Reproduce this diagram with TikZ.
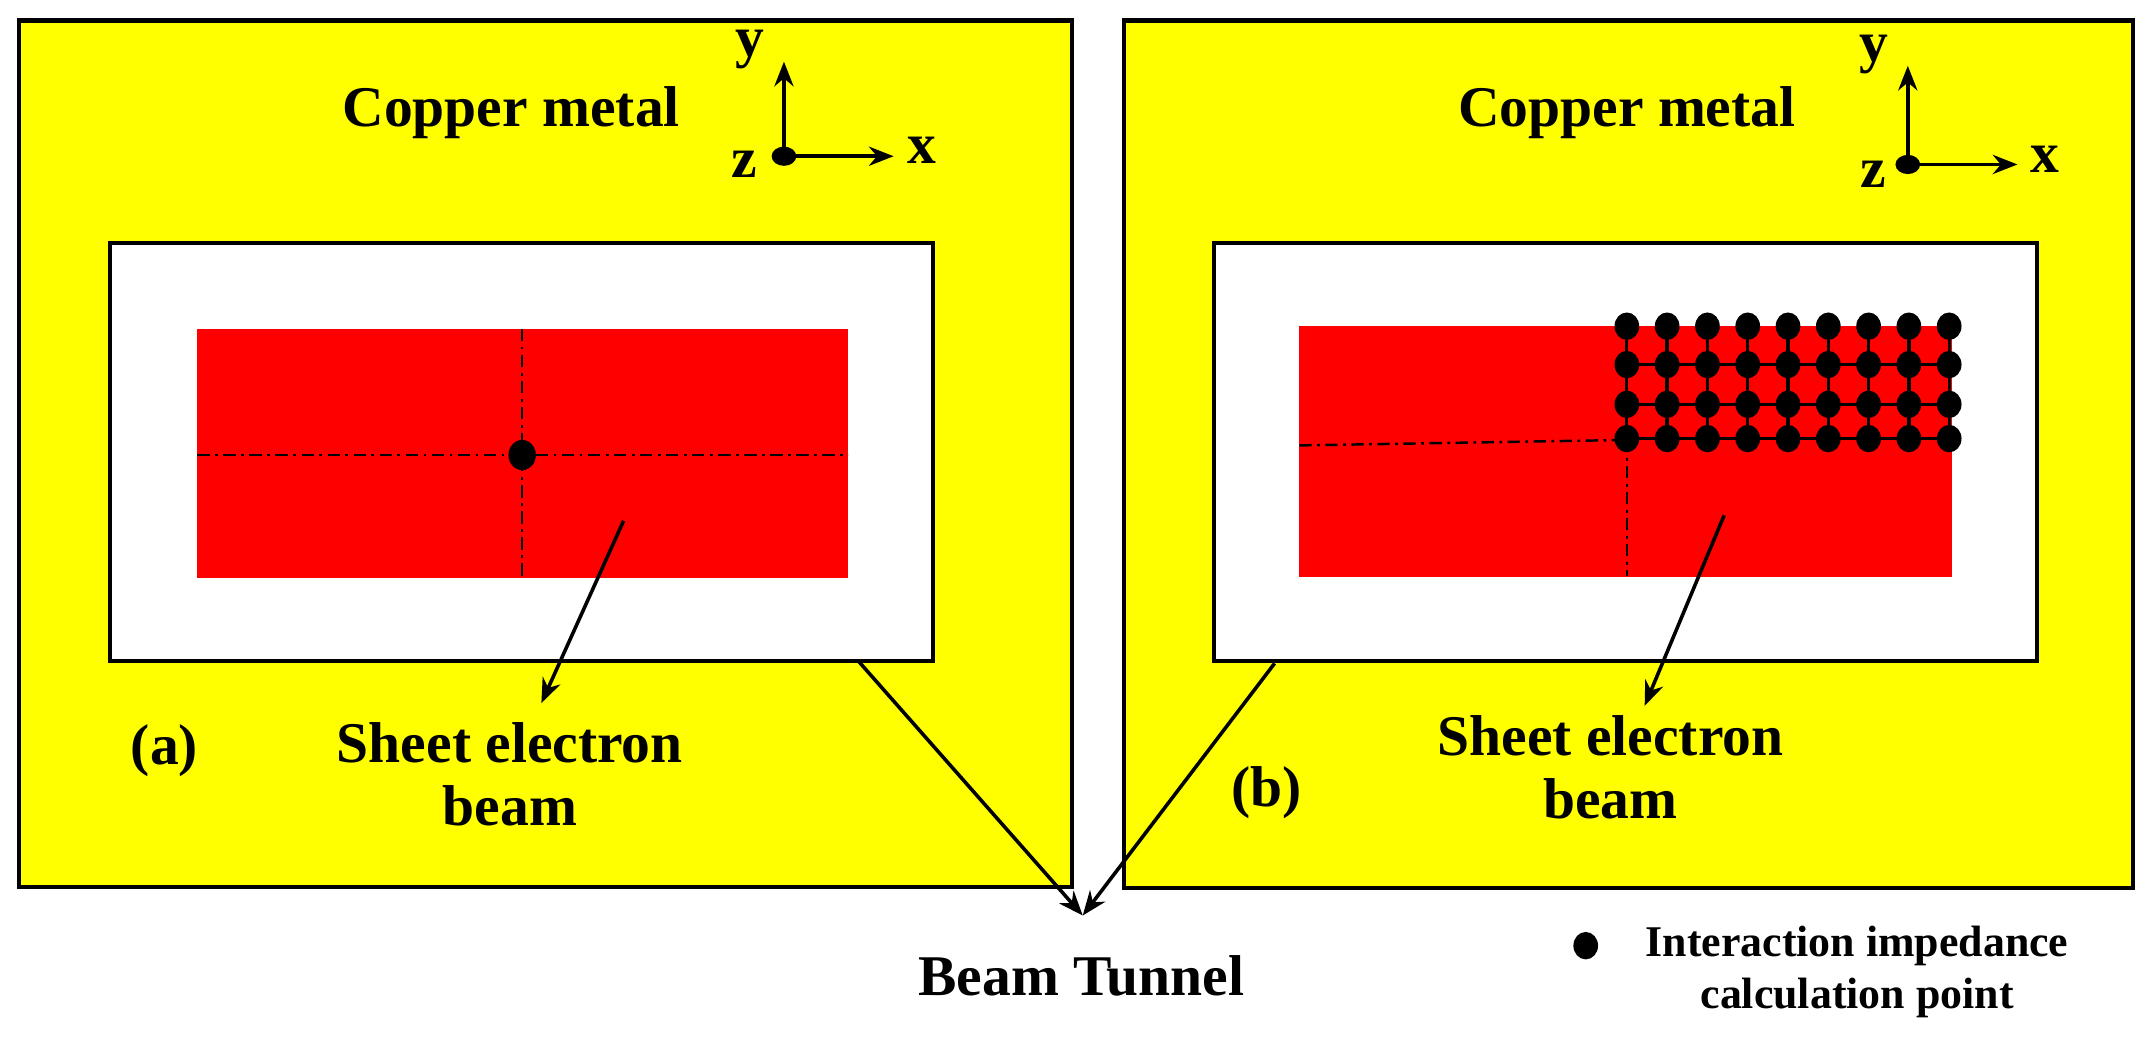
\documentclass[tikz,border=0pt]{standalone}
\usepackage{fontspec}
\setmainfont{Liberation Serif}
\usetikzlibrary{arrows.meta}
\definecolor{cu}{RGB}{255,255,0}
\definecolor{rd}{RGB}{255,0,0}
\begin{document}
\begin{tikzpicture}[x=1pt,y=-1pt,
  lbl/.style={font=\fontsize{42}{46}\selectfont\bfseries,inner sep=0pt},
  small/.style={font=\fontsize{32}{36}\selectfont\bfseries,inner sep=0pt},
  arr/.style={line width=2.6pt,-{Stealth[length=18pt,width=14pt]}},
  dd/.style={line width=1.8pt,dash pattern=on 9pt off 4pt on 2pt off 4pt}]
\useasboundingbox (0,0) rectangle (1568,762);
% panel a
\fill[cu,draw=black,line width=3pt] (14,15) rectangle (782,647);
\fill[white,draw=black,line width=3pt] (80,177) rectangle (681,482);
\fill[rd] (144,240) rectangle (619,422);
\draw[dd] (144,332) -- (619,332);
\draw[dd] (381,240) -- (381,422);
\fill (381,332) ellipse (10pt and 11pt);
\coordinate (oa) at (572,114);
\draw[arr] (oa) -- (572,45);
\draw[arr] (oa) -- (652,114);
\fill (oa) ellipse (9pt and 7pt);
\node[lbl] at (547,36) {y};
\node[lbl] at (673,110) {x};
\node[lbl] at (543,120) {z};
\node[lbl] at (373,82) {Copper metal};
\node[lbl,align=center] (sa) at (372,565) {Sheet electron\\beam};
\coordinate (sa0) at (455,380);
\draw[arr] (sa0) -- (395,513);
\node[lbl] at (120,548) {(a)};
% panel b
\fill[cu,draw=black,line width=3pt] (820,15) rectangle (1556,648);
\fill[white,draw=black,line width=3pt] (886,177) rectangle (1486,482);
\fill[rd] (948,238) rectangle (1424,421);
\draw[dd] (948,325) -- (1187,321);
\draw[dd] (1187,321) -- (1187,420);
\foreach \i in {0,...,8}{
  \pgfmathsetmacro\xx{1187+\i*29.4}
  \draw[line width=2.4pt] (\xx,238) -- (\xx,320);
}
\foreach \yy in {266,295,320} \draw[line width=2.4pt] (1187,\yy) -- (1422,\yy);
\foreach \yy in {238,266,295,320}
 \foreach \i in {0,...,8}{
  \pgfmathsetmacro\xx{1187+\i*29.4}
  \fill (\xx,\yy) ellipse (9pt and 10pt);
 }
\coordinate (ob) at (1392,120);
\draw[arr] (ob) -- (1392,48);
\draw[arr] (ob) -- (1472,120);
\fill (ob) ellipse (9pt and 7pt);
\node[lbl] at (1367,40) {y};
\node[lbl] at (1492,116) {x};
\node[lbl] at (1367,127) {z};
\node[lbl] at (1187,82) {Copper metal};
\node[lbl,align=center] (sb) at (1175,560) {Sheet electron\\beam};
\coordinate (sb0) at (1258,376);
\draw[arr] (sb0) -- (1200,515);
\node[lbl] at (924,578) {(b)};
% beam tunnel
\coordinate (t1) at (626,482);
\coordinate (t2) at (930,484);
\coordinate (tt) at (790,668);
\draw[arr] (t1) -- (tt);
\draw[arr] (t2) -- (tt);
\node[lbl] (bt) at (789,712) {Beam Tunnel};
% legend
\fill (1157,690) ellipse (9pt and 10pt);
\node[small] at (1355,690) {Interaction impedance};
\node[small] at (1355,728) {calculation point};
\end{tikzpicture}
\end{document}
